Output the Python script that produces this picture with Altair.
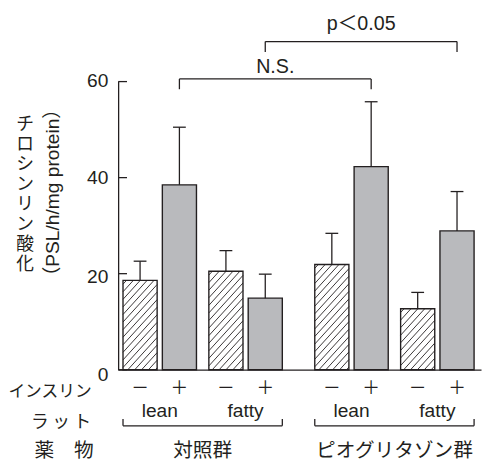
import altair as alt
import pandas as pd
import numpy as np

# ---------------- data ----------------
drugs = ["対照群", "ピオグリタゾン群"]
rats = ["lean", "fatty"]
insulin = ["－", "＋"]
means = [18.6, 38.5, 20.5, 14.9, 21.9, 42.3, 12.7, 28.9]
sds = [4.0, 12.0, 4.3, 5.0, 6.5, 13.5, 3.4, 8.2]
y_ticks = [0, 20, 40, 60]
comp_from = [1, 3]
comp_to = [5, 7]
comp_labels = ["N.S.", "p＜0.05"]
row_labels = ["インスリン", "ラ\u2009ッ\u2009ト", "薬　物"]
y_title_1 = "チロシンリン酸化"
y_title_2 = "（PSL/h/mg protein）"

# ---------------- layout ----------------
W, H = 369, 293
Y_MAX = 60
PX = H / Y_MAX
X0, STEP_I, STEP_R, STEP_G = 22.3, 40.0, 87.3, 195.0
HALF = 17.35
CAP = 6.5
HATCH_SLOPE = 1.1
HATCH_GAP = 7.0
INK = "#231f20"
GRAY = "#b9babd"
FONT = "'Liberation Sans', 'Noto Sans CJK JP'"
CJK = "'Noto Sans CJK JP'"
FS = 19.5
TICK_LABEL_SHIFT = [5, 3, 0.5, 0]   # px downward shift of each tick label

rows = []
k = 0
for g, d in enumerate(drugs):
    for r, rt in enumerate(rats):
        for i, ins in enumerate(insulin):
            c = X0 + g * STEP_G + r * STEP_R + i * STEP_I
            rows.append(dict(drug=d, rat=rt, ins=ins, g=g, r=r, i=i,
                             mean=means[k], upper=means[k] + sds[k],
                             center=c, left=c - HALF, right=c + HALF,
                             capl=c - CAP, capr=c + CAP, base=0.0,
                             fillc="white" if i == 0 else GRAY))
            k += 1
df = pd.DataFrame(rows)

# hatch segments for the insulin "-" bars, derived from the bars above
hrows = []
for _, b in df[df.i == 0].iterrows():
    T = b["mean"] * PX
    L, R = b["left"], b["right"]
    c = L - T / HATCH_SLOPE + HATCH_GAP * 0.5
    while c < R:
        xs = max(L, c)
        xe = min(R, c + T / HATCH_SLOPE)
        if xe - xs > 0.8:
            hrows.append(dict(x=xs, y=HATCH_SLOPE * (xs - c) / PX,
                              x2=xe, y2=HATCH_SLOPE * (xe - c) / PX))
        c += HATCH_GAP
hdf = pd.DataFrame(hrows)

# comparison brackets
levels = [60.56, 68.33]
text_levels = [63.07, 72.07]
legdrop = 10.5 / PX
cdf = pd.DataFrame(dict(
    x=[df.center[a] for a in comp_from],
    x2=[df.center[b] for b in comp_to],
    y=levels,
    ylow=[lv - legdrop for lv in levels],
    label=comp_labels,
    ty=text_levels,
))
cdf["tx"] = (cdf.x + cdf.x2) / 2

rat_df = df.groupby(["g", "r"], as_index=False).agg(center=("center", "mean"), rat=("rat", "first"))
drug_df = df.groupby("g", as_index=False).agg(left=("left", "min"), right=("right", "max"), drug=("drug", "first"))
drug_df["center"] = (drug_df.left + drug_df.right) / 2

tick_df = pd.DataFrame(dict(v=y_ticks))
tick_df["ly"] = [v - s / PX for v, s in zip(y_ticks, TICK_LABEL_SHIFT)]
tick_df["lab"] = [str(v) for v in y_ticks]

xs_ = alt.Scale(domain=[0, W], nice=False, zero=False)
ys_ = alt.Scale(domain=[0, Y_MAX], nice=False)

yaxis = alt.Axis(values=y_ticks, ticks=False, tickSize=0, grid=False, title=None,
                 labels=False, domainColor=INK, domainWidth=1.3)
xaxis = alt.Axis(labels=False, ticks=False, grid=False, title=None, domainColor=INK, domainWidth=1.3)

base = alt.Chart(df)

bars_fill = base.mark_bar(strokeWidth=0).encode(
    x=alt.X("left:Q", scale=xs_, axis=xaxis), x2="right:Q",
    y=alt.Y("mean:Q", scale=ys_, axis=yaxis), y2="base:Q",
    fill=alt.Fill("fillc:N", scale=None))

hatch = alt.Chart(hdf).mark_rule(color=INK, strokeWidth=0.9).encode(
    x=alt.X("x:Q", scale=xs_), x2="x2:Q", y=alt.Y("y:Q", scale=ys_), y2="y2:Q")

bars_outline = base.mark_bar(fillOpacity=0, stroke=INK, strokeWidth=1.4).encode(
    x=alt.X("left:Q", scale=xs_), x2="right:Q",
    y=alt.Y("mean:Q", scale=ys_), y2="base:Q")

err = base.mark_rule(color=INK, strokeWidth=1.3).encode(
    x=alt.X("center:Q", scale=xs_), y=alt.Y("mean:Q", scale=ys_), y2="upper:Q")
cap = base.mark_rule(color=INK, strokeWidth=1.3).encode(
    x=alt.X("capl:Q", scale=xs_), x2="capr:Q", y=alt.Y("upper:Q", scale=ys_))

ticks = alt.Chart(tick_df).mark_rule(color=INK, strokeWidth=1.3).encode(
    x=alt.value(0), x2=alt.value(9), y=alt.Y("v:Q", scale=ys_))
tick_lab = alt.Chart(tick_df).mark_text(font=FONT, fontSize=FS, color=INK, align="right", baseline="middle").encode(
    x=alt.value(-10), y=alt.Y("ly:Q", scale=ys_), text="lab:N")

br_h = alt.Chart(cdf).mark_rule(color=INK, strokeWidth=1.3).encode(
    x=alt.X("x:Q", scale=xs_), x2="x2:Q", y=alt.Y("y:Q", scale=ys_))
br_l = alt.Chart(cdf).mark_rule(color=INK, strokeWidth=1.3).encode(
    x=alt.X("x:Q", scale=xs_), y=alt.Y("y:Q", scale=ys_), y2="ylow:Q")
br_r = alt.Chart(cdf).mark_rule(color=INK, strokeWidth=1.3).encode(
    x=alt.X("x2:Q", scale=xs_), y=alt.Y("y:Q", scale=ys_), y2="ylow:Q")
br_t = alt.Chart(cdf).mark_text(font=FONT, fontSize=20, color=INK, baseline="middle").encode(
    x=alt.X("tx:Q", scale=xs_), y=alt.Y("ty:Q", scale=ys_), text="label:N")

ins_t = base.mark_text(font=CJK, fontSize=18, color=INK, baseline="middle").encode(
    x=alt.X("center:Q", scale=xs_), y=alt.value(313), text="ins:N")
rat_t = alt.Chart(rat_df).mark_text(font=FONT, fontSize=FS, color=INK, baseline="middle").encode(
    x=alt.X("center:Q", scale=xs_), y=alt.value(335.5), text="rat:N")
drug_h = alt.Chart(drug_df).mark_rule(color=INK, strokeWidth=1.3).encode(
    x=alt.X("left:Q", scale=xs_), x2="right:Q", y=alt.value(350))
drug_l = alt.Chart(drug_df).mark_rule(color=INK, strokeWidth=1.3).encode(
    x=alt.X("left:Q", scale=xs_), y=alt.value(343), y2=alt.value(350))
drug_r = alt.Chart(drug_df).mark_rule(color=INK, strokeWidth=1.3).encode(
    x=alt.X("right:Q", scale=xs_), y=alt.value(343), y2=alt.value(350))
drug_t = alt.Chart(drug_df).mark_text(font=FONT, fontSize=20, color=INK, baseline="middle").encode(
    x=alt.X("center:Q", scale=xs_), y=alt.value(376), text="drug:N")

lab_df = pd.DataFrame(dict(label=row_labels, ypix=[316, 347, 376], fs=[17, 18, 20], xr=[-27, -27.5, -25]))
row_t = alt.Chart(lab_df).mark_text(font=FONT, color=INK, align="right", baseline="middle").encode(
    x=alt.X("xr:Q", scale=None), y=alt.Y("ypix:Q", scale=None), text="label:N",
    size=alt.Size("fs:Q", scale=None))

yt1 = alt.Chart(pd.DataFrame(dict(a=[0]))).mark_text(
    font=CJK, fontSize=18, lineHeight=20.3, color=INK, align="center", baseline="top").encode(
    x=alt.value(-94.5), y=alt.value(35), text=alt.value(list(y_title_1)))
yt2 = alt.Chart(pd.DataFrame(dict(a=[0]))).mark_text(
    font=FONT, fontSize=19.5, color=INK, align="center", baseline="middle", angle=270).encode(
    x=alt.value(-66.5), y=alt.value(113), text=alt.value(y_title_2))

chart = alt.layer(
    bars_fill, hatch, bars_outline, err, cap, ticks, tick_lab,
    br_h, br_l, br_r, br_t, ins_t, rat_t, drug_h, drug_l, drug_r, drug_t, row_t, yt1, yt2
).properties(
    width=W, height=H,
    autosize=alt.AutoSizeParams(type="none"),
    padding={"left": 112, "top": 71, "right": 1, "bottom": 89},
).configure_view(stroke=None)

chart.save("out.html", embed_options={"renderer": "svg", "actions": False})
